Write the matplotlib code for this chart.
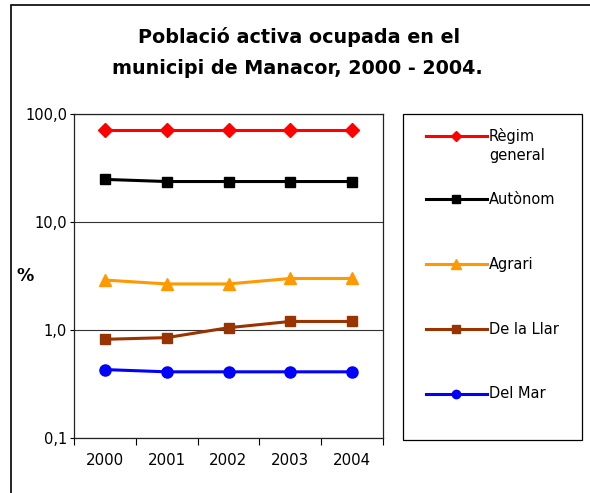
import matplotlib
matplotlib.use("Agg")
import matplotlib.pyplot as plt
from matplotlib.lines import Line2D
from matplotlib.patches import Rectangle
from matplotlib.ticker import FixedLocator, NullLocator, NullFormatter, FixedFormatter

plt.rcParams['font.family'] = ['DejaVu Sans']

years = ["2000", "2001", "2002", "2003", "2004"]
series_names = ["Règim\ngeneral", "Autònom", "Agrari", "De la Llar", "Del Mar"]
regim_general = [71.0, 71.0, 71.0, 71.0, 71.0]
autonom = [24.8, 23.7, 23.7, 23.7, 23.7]
agrari = [2.9, 2.67, 2.67, 3.0, 3.0]
de_la_llar = [0.82, 0.85, 1.05, 1.2, 1.2]
del_mar = [0.43, 0.41, 0.41, 0.41, 0.41]
y_ticks = [0.1, 1, 10, 100]
y_tick_labels = ["0,1", "1,0", "10,0", "100,0"]

styles = [
    dict(color="#FF0000", marker="D", ms=7),
    dict(color="#000000", marker="s", ms=7.5),
    dict(color="#FF9900", marker="^", ms=9),
    dict(color="#993300", marker="s", ms=7.5),
    dict(color="#0000FF", marker="o", ms=8),
]
data = [regim_general, autonom, agrari, de_la_llar, del_mar]

W, H = 590, 493
fig = plt.figure(figsize=(W / 100, H / 100), dpi=100)

def fx(x):
    return x / W

def fy(y):
    return 1 - y / H

# outer chart border
fig.add_artist(Rectangle((fx(11), -0.5), 2, fy(5) + 0.5, transform=fig.transFigure,
                         fill=False, edgecolor="black", lw=1.2))

ax = fig.add_axes([fx(74), fy(438), fx(383) - fx(74), fy(114) - fy(438)])
xs = list(range(len(years)))
for vals, st in zip(data, styles):
    ax.plot(xs, vals, color=st["color"], lw=2.2, marker=st["marker"], ms=st["ms"],
            markeredgecolor=st["color"], markerfacecolor=st["color"], zorder=3)

ax.set_yscale("log")
ax.set_ylim(0.1, 100)
ax.set_xlim(-0.5, len(years) - 0.5)
ax.yaxis.set_major_locator(FixedLocator(y_ticks))
ax.yaxis.set_major_formatter(FixedFormatter(y_tick_labels))
ax.yaxis.set_minor_locator(NullLocator())
ax.yaxis.set_minor_formatter(NullFormatter())
ax.grid(axis="y", which="major", color="#333333", lw=0.8)
ax.set_axisbelow(True)

ax.xaxis.set_major_locator(FixedLocator([i - 0.5 for i in range(len(years) + 1)]))
ax.xaxis.set_major_formatter(NullFormatter())
ax.xaxis.set_minor_locator(FixedLocator(xs))
ax.xaxis.set_minor_formatter(FixedFormatter(years))
ax.tick_params(axis="x", which="major", length=5, width=0.8, direction="out")
ax.tick_params(axis="x", which="minor", length=0, pad=11, labelsize=10.8)
ax.tick_params(axis="y", which="major", length=3, width=0.8, direction="out", pad=2, labelsize=10.5)
for sp in ax.spines.values():
    sp.set_color("#222222")
    sp.set_linewidth(0.9)

fig.text(fx(25), fy(276), "%", fontsize=12.5, fontweight="bold", ha="center", va="center")

fig.text(fx(299), fy(37), "Població activa ocupada en el", fontsize=13.8, fontweight="bold",
         ha="center", va="center")
fig.text(fx(297), fy(68), "municipi de Manacor, 2000 - 2004.", fontsize=13.8, fontweight="bold",
         ha="center", va="center")

# legend box
fig.add_artist(Rectangle((fx(403), fy(440)), fx(582) - fx(403), fy(114) - fy(440),
                         transform=fig.transFigure, fill=False, edgecolor="black", lw=0.9))
leg_y = [136, 199, 264, 329, 394]
for name, st, ly in zip(series_names, styles, leg_y):
    fig.add_artist(Line2D([fx(426), fx(456), fx(487)], [fy(ly)] * 3, transform=fig.transFigure,
                          color=st["color"], lw=2.2, marker=st["marker"], ms=st["ms"] * 0.75,
                          markevery=[1]))
    if "\n" in name:
        fig.text(fx(489), fy(ly - 8), name, fontsize=10.5, ha="left", va="top", linespacing=1.3)
    else:
        fig.text(fx(489), fy(ly), name, fontsize=10.5, ha="left", va="center")

fig.savefig("out.png", dpi=100)
